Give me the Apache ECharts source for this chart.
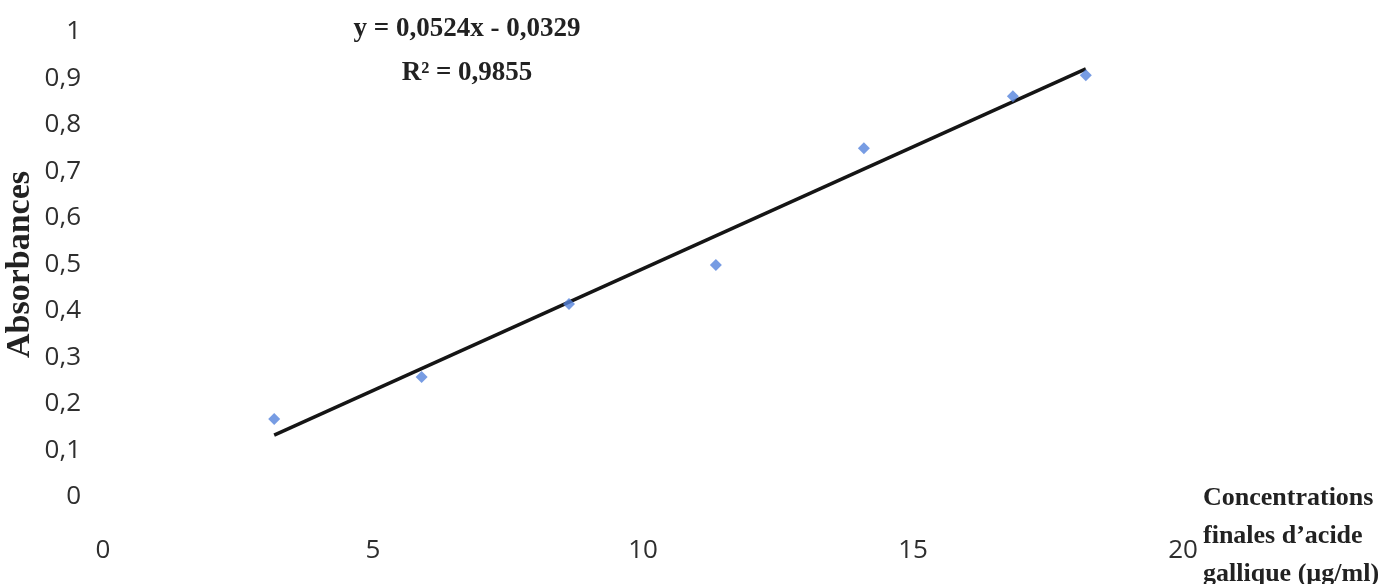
<!DOCTYPE html>
<html>
<head>
<meta charset="utf-8">
<script src="https://cdn.jsdelivr.net/npm/echarts@6/dist/echarts.min.js"></script>
<style>html,body{margin:0;padding:0;background:#fff}#c{width:1392px;height:584px}</style>
</head>
<body>
<div id="c"></div>
<script>
var concentrations = [3.17, 5.9, 8.63, 11.35, 14.09, 16.85, 18.2];
var absorbances = [0.168, 0.258, 0.415, 0.499, 0.75, 0.862, 0.907];
var slope = 0.0524;
var intercept = -0.0329;
var equationText = 'y = 0,0524x - 0,0329';
var r2Text = 'R\u00B2 = 0,9855';
var xAxisTitle = 'Concentrations\nfinales d\u2019acide\ngallique (\u00B5g/ml)';
var yAxisTitle = 'Absorbances';

var points = concentrations.map(function (x, i) { return [x, absorbances[i]]; });
var xMin = Math.min.apply(null, concentrations);
var xMax = Math.max.apply(null, concentrations);
var trend = [[xMin, slope * xMin + intercept], [xMax, slope * xMax + intercept]];

var chart = echarts.init(document.getElementById('c'));
var serif = '"Liberation Serif", "DejaVu Serif", serif';
var sans = '"Open Sans", "Noto Sans", sans-serif';
chart.setOption({
  animation: false,
  grid: { left: 103, right: 209, top: 32, bottom: 87, containLabel: false, outerBoundsMode: 'none' },
  xAxis: {
    type: 'value', min: 0, max: 20, interval: 5,
    axisLine: { show: false }, axisTick: { show: false }, splitLine: { show: false },
    axisLabel: { margin: 41, fontSize: 26, color: '#2e2e2e', fontFamily: sans, hideOverlap: false }
  },
  yAxis: {
    type: 'value', min: 0, max: 1, interval: 0.1,
    axisLine: { show: false }, axisTick: { show: false }, splitLine: { show: false },
    axisLabel: { margin: 22, fontSize: 26, color: '#2e2e2e', fontFamily: sans, hideOverlap: false,
      formatter: function (v) { return String(Math.round(v * 10) / 10).replace('.', ','); } }
  },
  series: [
    { type: 'line', data: trend, symbol: 'none', lineStyle: { color: '#151515', width: 3.5 }, z: 2 },
    { type: 'scatter', data: points, symbol: 'diamond', symbolSize: 12, itemStyle: { color: '#5583dc' }, z: 3 }
  ]
});

var axisEnd = chart.convertToPixel({ gridIndex: 0 }, [20, 0]);
var yMid = chart.convertToPixel({ gridIndex: 0 }, [0, 0.5]);
chart.setOption({
  graphic: [
    { type: 'text', x: 467, y: 29, style: { text: equationText, textAlign: 'center', textVerticalAlign: 'middle', font: 'bold 27px ' + serif, fill: '#222' } },
    { type: 'text', x: 467, y: 73, style: { text: r2Text, textAlign: 'center', textVerticalAlign: 'middle', font: 'bold 27px ' + serif, fill: '#222' } },
    { type: 'text', x: yMid[0] - 83, y: yMid[1], rotation: Math.PI / 2,
      style: { text: yAxisTitle, textAlign: 'center', textVerticalAlign: 'middle', font: 'bold 34px ' + serif, fill: '#222' } },
    { type: 'text', x: axisEnd[0] + 20, y: axisEnd[1] - 18,
      style: { text: xAxisTitle, textAlign: 'left', textVerticalAlign: 'top', font: 'bold 26px ' + serif, lineHeight: 38, fill: '#222' } }
  ]
});
</script>
</body>
</html>
